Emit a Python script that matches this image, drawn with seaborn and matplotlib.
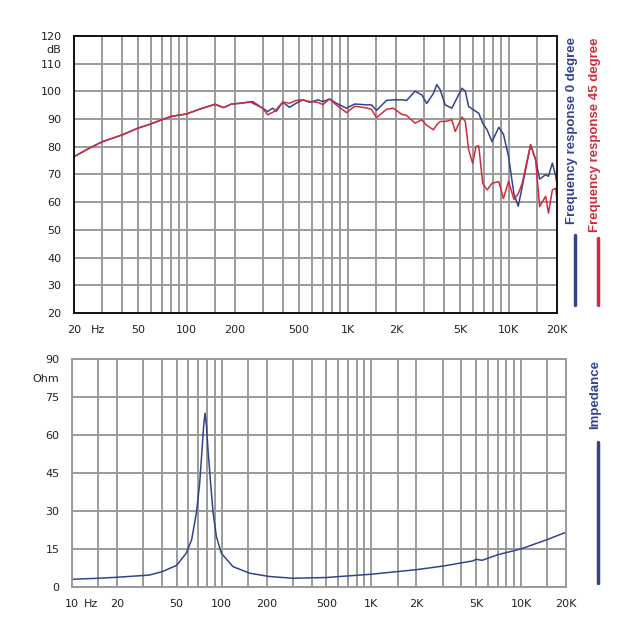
import numpy as np
import pandas as pd
import matplotlib
matplotlib.use("Agg")
import matplotlib.pyplot as plt
import matplotlib.ticker as mticker
import matplotlib.transforms as mtransforms
import seaborn as sns

# 주파수 응답 (0도 / 45도 공통 저역 구간)
freq_low = [20, 25, 30, 40, 50, 60, 70, 80, 90, 100, 120, 150, 170, 190, 220, 250]
spl_low = [76.4, 79.5, 81.8, 84.3, 86.7, 88.2, 89.7, 90.9, 91.4, 91.8, 93.5, 95.3, 94.1, 95.4, 95.7, 96.2]

freq_high = [257, 297, 319, 343, 360, 396, 436, 480, 528, 581, 654, 703, 774, 851, 984,
             1108, 1310, 1406, 1513, 1747, 1925, 2168, 2329, 2625, 2890, 3105, 3420, 3584,
             3760, 4040, 4446, 4666, 5140, 5390, 5650, 5990, 6280, 6530, 6910, 7360, 7900,
             8700, 9300, 10000, 10800, 11490, 12160, 13710, 14730, 15600, 17000, 17700,
             18720, 19650, 20000]
spl_0deg = [96.3, 93.9, 92.7, 93.9, 92.7, 96.1, 94.2, 95.7, 96.9, 96.0, 96.9, 96.3, 97.2, 95.7,
            93.9, 95.4, 95.1, 95.1, 93.1, 96.7, 96.9, 96.9, 96.7, 100.0, 98.7, 95.6, 99.3,
            102.4, 100.6, 95.1, 93.9, 96.3, 101.1, 100.0, 94.5, 93.5, 92.7, 92.1, 88.5, 86.1,
            81.8, 87.0, 84.5, 76.5, 63.0, 58.5, 65.6, 80.7, 75.3, 68.3, 69.9, 69.3, 74.1, 69.3,
            66.3]
spl_45deg = [95.7, 93.9, 91.5, 92.4, 93.3, 96.1, 95.7, 96.7, 96.9, 96.3, 96.0, 95.2, 97.2, 95.1,
             92.3, 94.6, 94.0, 93.5, 90.5, 93.5, 93.9, 91.7, 91.3, 88.5, 89.7, 87.7, 86.1,
             87.9, 89.1, 89.1, 89.7, 85.5, 90.7, 89.1, 78.9, 74.0, 80.1, 80.3, 66.8, 64.4,
             66.8, 67.4, 61.3, 67.5, 61.0, 63.0, 66.8, 80.7, 75.3, 58.4, 62.1, 56.0, 64.4,
             65.0, 60.8]

# 임피던스
imp_freq = [10, 15, 20, 30, 33, 40, 50, 58, 63, 68, 71.3, 73.9, 75.8, 77.4, 79.2, 81.1, 84.4,
            87.5, 92.2, 99.5, 119, 154, 208, 300, 500, 1000, 2000, 3000, 4800, 5000, 5500,
            7000, 10000, 15000, 20000]
imp_ohm = [3.0, 3.4, 3.8, 4.5, 4.7, 6.0, 8.5, 13.3, 18.6, 29.7, 40.9, 54.0, 63.5, 68.6, 63.5,
           54.0, 40.9, 29.7, 19.9, 13.3, 8.0, 5.4, 4.1, 3.4, 3.7, 5.0, 6.8, 8.2, 10.3, 10.9,
           10.5, 12.7, 15.0, 18.7, 21.6]

top_grid_x = [20, 30, 40, 50, 60, 70, 80, 90, 100, 150, 200, 300, 400, 500, 600, 700, 800, 900,
              1000, 1500, 2000, 3000, 4000, 5000, 6000, 7000, 8000, 9000, 10000, 15000, 20000]
bot_grid_x = [10, 15] + top_grid_x
top_labels = {20: "20", 50: "50", 100: "100", 200: "200", 500: "500", 1000: "1K",
              2000: "2K", 5000: "5K", 10000: "10K", 20000: "20K"}
bot_labels = dict(top_labels)
bot_labels[10] = "10"

BLUE = "#34448a"
RED = "#d42b3c"
GRID = "#9a9a9a"
TXT = "#222222"

df0 = pd.DataFrame({"freq": freq_low + freq_high, "spl": spl_low + spl_0deg})
df45 = pd.DataFrame({"freq": freq_low + freq_high, "spl": spl_low + spl_45deg})
dfz = pd.DataFrame({"freq": imp_freq, "ohm": imp_ohm})

sns.set_style("white")
plt.rcParams["font.family"] = ["DejaVu Sans"]

fig = plt.figure(figsize=(6.4, 6.4), dpi=100)
ax1 = fig.add_axes([0.1156, 0.511, 0.7547, 0.433])
ax2 = fig.add_axes([0.1125, 0.083, 0.7719, 0.356])

for ax in (ax1, ax2):
    ax.set_xscale("log")

sns.lineplot(data=df0, x="freq", y="spl", ax=ax1, color=BLUE, lw=1.1, estimator=None, sort=False)
sns.lineplot(data=df45, x="freq", y="spl", ax=ax1, color=RED, lw=1.1, estimator=None, sort=False)
sns.lineplot(data=dfz, x="freq", y="ohm", ax=ax2, color=BLUE, lw=1.1, estimator=None, sort=False)


def style_axis(ax, xlim, ylim, gx, labels, gy, frame_color):
    ax.set_xlim(*xlim)
    ax.set_ylim(*ylim)
    ax.xaxis.set_major_locator(mticker.FixedLocator(gx))
    ax.xaxis.set_major_formatter(mticker.FuncFormatter(lambda v, p: labels.get(int(round(v)), "")))
    ax.xaxis.set_minor_locator(mticker.NullLocator())
    ax.yaxis.set_major_locator(mticker.FixedLocator(gy))
    ax.yaxis.set_minor_locator(mticker.NullLocator())
    ax.grid(which="major", color=GRID, lw=1.4)
    ax.tick_params(which="major", length=3, color=GRID, width=1.2, labelsize=8,
                   labelcolor=TXT, pad=6)
    ax.set_xlabel("")
    ax.set_ylabel("")
    for s in ax.spines.values():
        s.set_color(frame_color)
        s.set_linewidth(1.4)
    ax.set_axisbelow(True)


style_axis(ax1, (20, 20000), (20, 120), top_grid_x, top_labels, list(range(20, 121, 10)), "#111111")
style_axis(ax2, (10, 20000), (0, 90), bot_grid_x, bot_labels, list(range(0, 91, 15)), GRID)

# 단위 표시
down = mtransforms.ScaledTranslation(0, -9 / 72, fig.dpi_scale_trans)
left = mtransforms.ScaledTranslation(-9 / 72, 0, fig.dpi_scale_trans)
t1 = mtransforms.blended_transform_factory(ax1.transAxes, ax1.transData) + left
ax1.text(0, 115, "dB", transform=t1, ha="right", va="center", fontsize=8, color=TXT)
t1x = mtransforms.blended_transform_factory(ax1.transData, ax1.transAxes) + down
ax1.text(28, 0, "Hz", transform=t1x, ha="center", va="top", fontsize=8, color=TXT)
t2 = mtransforms.blended_transform_factory(ax2.transAxes, ax2.transData) + left
ax2.text(0, 82, "Ohm", transform=t2, ha="right", va="center", fontsize=8, color=TXT)
t2x = mtransforms.blended_transform_factory(ax2.transData, ax2.transAxes) + down
ax2.text(13.4, 0, "Hz", transform=t2x, ha="center", va="top", fontsize=8, color=TXT)

# 범례 (세로 글씨 + 짧은 선)
fam = ["Liberation Sans Narrow", "Liberation Sans", "DejaVu Sans"]
fig.text(572 / 640, 1 - 37 / 640, "Frequency response 0 degree", rotation=90, ha="center",
         va="top", fontsize=9.5, fontweight="bold", color=BLUE, family=fam)
fig.text(595 / 640, 1 - 37 / 640, "Frequency response 45 degree", rotation=90, ha="center",
         va="top", fontsize=9.5, fontweight="bold", color=RED, family=fam)
fig.text(595 / 640, 1 - 360 / 640, "Impedance", rotation=90, ha="center",
         va="top", fontsize=9.5, fontweight="bold", color=BLUE, family=fam)
fig.add_artist(plt.Line2D([575 / 640, 575 / 640], [1 - 235 / 640, 1 - 305 / 640], color=BLUE, lw=2.5))
fig.add_artist(plt.Line2D([598 / 640, 598 / 640], [1 - 238 / 640, 1 - 305 / 640], color=RED, lw=2.5))
fig.add_artist(plt.Line2D([598 / 640, 598 / 640], [1 - 442 / 640, 1 - 583 / 640], color=BLUE, lw=2.5))

fig.savefig("out.png", dpi=100, facecolor="white")
